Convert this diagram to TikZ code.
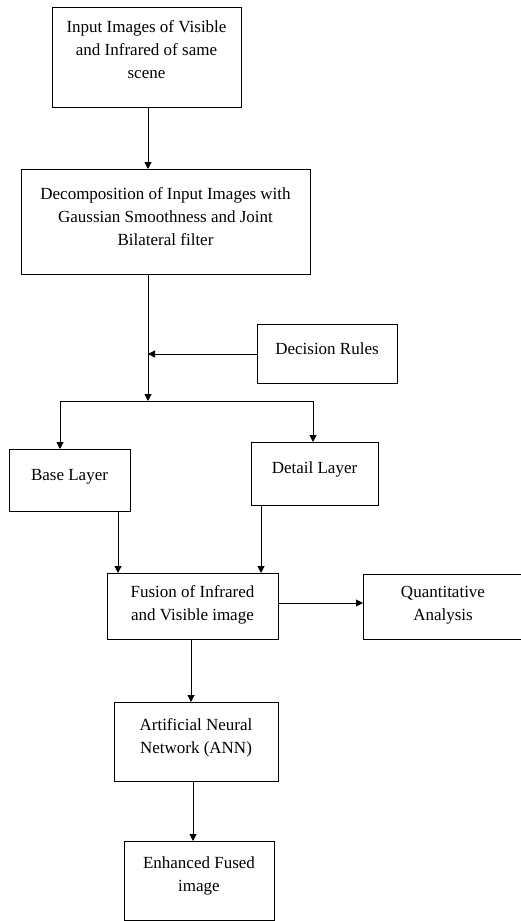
\documentclass[tikz,border=0pt]{standalone}
\usepackage{fontspec}
\setmainfont{Liberation Serif}
\usetikzlibrary{arrows.meta,calc}
\begin{document}
\begin{tikzpicture}[x=1pt,y=-1pt,
  box/.style={draw, line width=1pt, inner sep=0pt, anchor=north west},
  txt/.style={anchor=base, inner sep=0pt, font=\fontsize{17}{23}\selectfont},
  arr/.style={line width=1pt, -{Triangle[length=7pt,width=7pt]}},
  ln/.style={line width=1pt}]
\useasboundingbox (0,0) rectangle (521,921);
% boxes
\node[box, minimum width=189pt, minimum height=100pt] (in)   at (52,7)    {};
\node[box, minimum width=289pt, minimum height=105pt] (dec)  at (21,169)  {};
\node[box, minimum width=140pt, minimum height=59pt]  (dr)   at (257,324) {};
\node[box, minimum width=121pt, minimum height=62pt]  (base) at (9,449)   {};
\node[box, minimum width=127pt, minimum height=63pt]  (det)  at (251,442) {};
\node[box, minimum width=171pt, minimum height=66pt]  (fus)  at (107,573) {};
\node[box, minimum width=161pt, minimum height=65pt]  (qa)   at (363,574) {};
\node[box, minimum width=164pt, minimum height=79pt]  (ann)  at (114,702) {};
\node[box, minimum width=150pt, minimum height=79pt]  (enh)  at (124,841) {};
% texts
\node[txt] (tin)  at (146.5,32) {\begin{tabular}[t]{@{}c@{}}Input Images of Visible\\and Infrared of same\\scene\end{tabular}};
\node[txt] (tdec) at (165.5,199) {\begin{tabular}[t]{@{}c@{}}Decomposition of Input Images with\\Gaussian Smoothness and Joint\\Bilateral filter\end{tabular}};
\node[txt] (tdr)  at (327,354) {Decision Rules};
\node[txt] (tbase) at (69.5,480) {Base Layer};
\node[txt] (tdet) at (314.5,473) {Detail Layer};
\node[txt] (tfus) at (192.5,597) {\begin{tabular}[t]{@{}c@{}}Fusion of Infrared\\and Visible image\end{tabular}};
\node[txt] (tqa)  at (443,597) {\begin{tabular}[t]{@{}c@{}}Quantitative\\Analysis\end{tabular}};
\node[txt] (tann) at (196,730) {\begin{tabular}[t]{@{}c@{}}Artificial Neural\\Network (ANN)\end{tabular}};
\node[txt] (tenh) at (199,868) {\begin{tabular}[t]{@{}c@{}}Enhanced Fused\\image\end{tabular}};
% helper coordinates
\coordinate (c1) at (148,0);
\coordinate (j)  at (148,401);
\coordinate (jl) at (60,401);
\coordinate (jr) at (313,401);
\coordinate (cb) at (118,0);
\coordinate (cd) at (261,0);
\coordinate (cq) at (0,603);
\coordinate (ca) at (191,0);
\coordinate (ce) at (193,0);
% connectors
\draw[arr] (in.south -| c1) -- (dec.north -| c1);
\draw[arr] (dec.south -| c1) -- (j);
\draw[arr] (dr.west) -- (dr.west -| c1);
\draw[ln] (jl) -- (jr);
\draw[arr] (jl) -- (jl |- base.north);
\draw[arr] (jr) -- (jr |- det.north);
\draw[arr] (base.south -| cb) -- (fus.north -| cb);
\draw[arr] (det.south -| cd) -- (fus.north -| cd);
\draw[arr] (fus.east |- cq) -- (qa.west |- cq);
\draw[arr] (fus.south -| ca) -- (ann.north -| ca);
\draw[arr] (ann.south -| ce) -- (enh.north -| ce);
\end{tikzpicture}
\end{document}
